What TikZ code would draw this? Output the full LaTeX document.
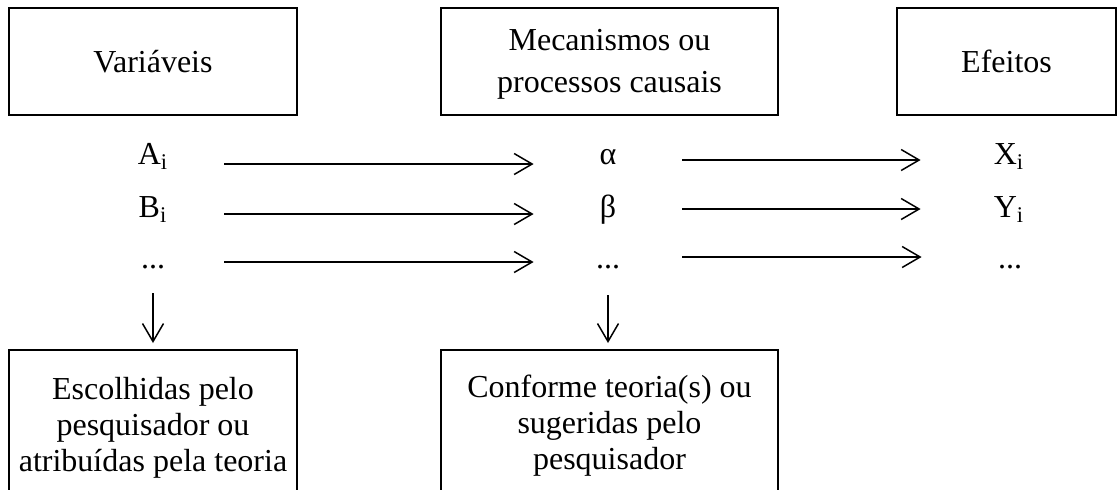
\documentclass[tikz,border=0pt]{standalone}
\usepackage{fontspec}
\setmainfont{Liberation Serif}
\usetikzlibrary{arrows.meta}
\begin{document}
\begin{tikzpicture}[x=0.5pt,y=-0.5pt,
  txt/.style={font=\fontsize{16pt}{18pt}\selectfont},
  box/.style={txt, draw, line width=1pt, inner sep=0pt, align=center},
  lbl/.style={txt, inner sep=0pt, anchor=base},
  flow/.style={line width=0.75pt, -{Straight Barb[length=9pt,width=10.5pt]}}]
\useasboundingbox (0,0) rectangle (1117,489);
\clip (0,0) rectangle (1117,489);

% header boxes
\node[box, minimum width=144pt, minimum height=53.5pt] (vars) at (153,61.5) {Variáveis};
\node[box, minimum width=168.5pt, minimum height=53.5pt, font=\fontsize{16pt}{21pt}\selectfont] (mech) at (609.5,61.5) {\rule{0pt}{13.5pt}Mecanismos ou\\processos causais};
\node[box, minimum width=109.5pt, minimum height=53.5pt] (eff) at (1006.5,61.5) {Efeitos};

% variables
\node[lbl, minimum width=71pt] (a) at (153,164) {A\textsubscript{i}};
\node[lbl, minimum width=71pt] (b) at (153,217) {B\textsubscript{i}};
\node[lbl, minimum width=71pt] (dotsL) at (153,268) {...};

% mechanisms
\node[lbl, minimum width=74pt] (alpha) at (608,164) {α};
\node[lbl, minimum width=74pt] (beta) at (608,217) {β};
\node[lbl, minimum width=74pt] (dotsM) at (608,268) {...};

% effects
\node[lbl, minimum width=88pt] (x) at (1009,164) {X\textsubscript{i}};
\node[lbl, minimum width=88pt] (y) at (1009,217) {Y\textsubscript{i}};
\node[lbl, minimum width=88pt] (dotsR) at (1010,268) {...};

% lower boxes (their bottom edges fall below the picture)
\node[box, anchor=north, minimum width=144pt, minimum height=78pt] (choice) at (153,349) {Escolhidas pelo\\pesquisador ou\\atribuídas pela teoria};
\node[box, anchor=north, minimum width=168.5pt, minimum height=76pt] (theory) at (609.5,349) {Conforme teoria(s) ou\\sugeridas pelo\\pesquisador};

% variables -> mechanisms
\draw[flow] (a.base east) -- (alpha.base west);
\draw[flow] ([yshift=1.5pt]b.base east) -- ([yshift=1.5pt]beta.base west);
\draw[flow] ([yshift=3pt]dotsL.base east) -- ([yshift=3pt]dotsM.base west);

% mechanisms -> effects
\draw[flow] ([yshift=2pt]alpha.base east) -- ([yshift=2pt]x.base west);
\draw[flow] ([yshift=4pt]beta.base east) -- ([yshift=4pt]y.base west);
\draw[flow] ([yshift=5.5pt]dotsM.base east) -- ([yshift=5.5pt]dotsR.base west);

% down to the explanatory boxes
\draw[flow, shorten >=3pt] ([yshift=-12.5pt]dotsL.base) -- (dotsL.base |- choice.north);
\draw[flow, shorten >=3pt] ([yshift=-13.5pt]dotsM.base) -- (dotsM.base |- theory.north);
\end{tikzpicture}
\end{document}
